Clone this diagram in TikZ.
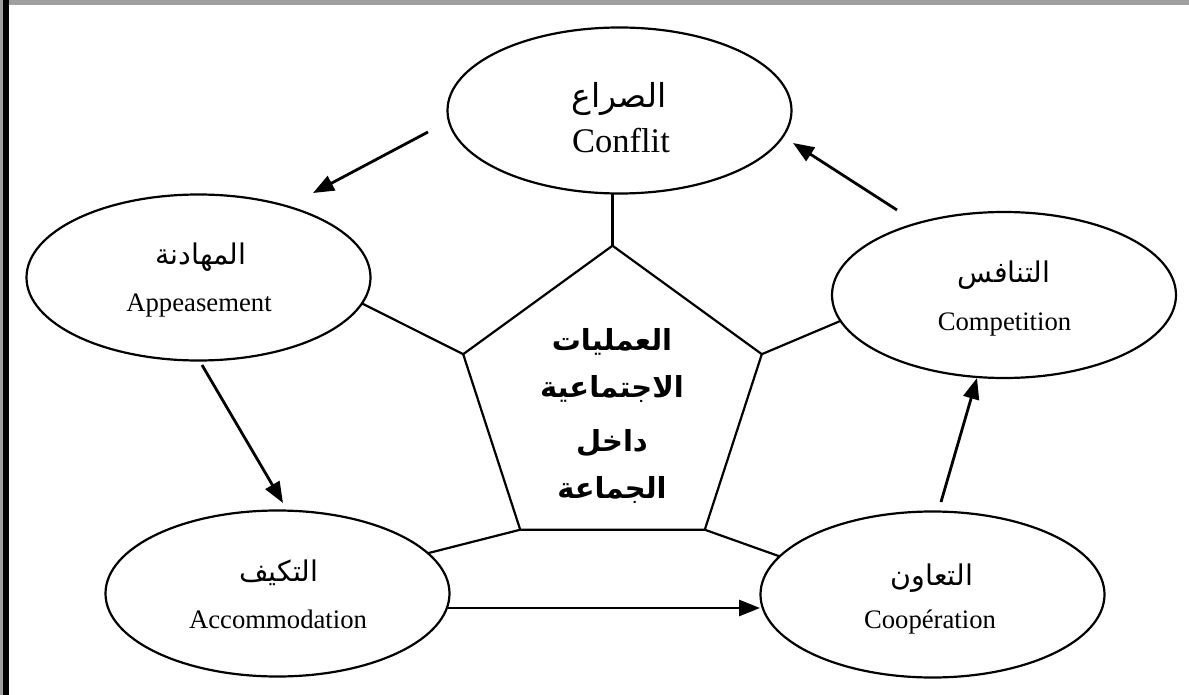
\documentclass[tikz,border=0pt]{standalone}
\usepackage{fontspec}
\setmainfont{Liberation Serif}
\newfontfamily\arabicfont[Script=Arabic]{DejaVu Sans}
\TeXXeTstate=1
\usetikzlibrary{arrows.meta,shapes.geometric,calc}
\begin{document}
\begin{tikzpicture}[x=1pt,y=-1pt,
  proc/.style={ellipse,draw,line width=2.2pt,minimum width=344pt,minimum height=166pt,inner sep=0pt,outer sep=0pt},
  link/.style={line width=2.2pt},
  flow/.style={line width=2.8pt,-{Triangle[length=21pt,width=16pt]}},
  artxt/.style={anchor=base,inner sep=0pt,font=\arabicfont\fontsize{28.5}{32}\selectfont},
  entxt/.style={anchor=base,inner sep=0pt,font=\fontsize{26.7}{30}\selectfont},
  ctxt/.style={anchor=base,inner sep=0pt,font=\arabicfont\bfseries\fontsize{29}{34}\selectfont}]
\useasboundingbox (0,0) rectangle (1189,695);
\fill[white] (0,0) rectangle (1189,695);
\fill[gray!75] (0,0) rectangle (1189,4.7);
\fill[gray!75] (0,0) rectangle (3.3,695);
\fill[black] (3.3,0) rectangle (9,695);

\node[proc] (conf) at (619.5,110.5) {};
\node[proc] (app) at (198.5,277.5) {};
\node[proc] (comp) at (1004,295) {};
\node[proc] (acc) at (277.5,593.5) {};
\node[proc] (coop) at (932.5,594.5) {};
\node[regular polygon,regular polygon sides=5,draw,line width=2.2pt,minimum size=314pt,inner sep=0pt,outer sep=0pt] (pent) at (612.5,402.7) {};

\node[artxt,font=\arabicfont\fontsize{33}{38}\selectfont] (confar) at (619,108) {\beginR الصراع\endR};
\node[entxt,font=\fontsize{34.5}{40}\selectfont] (confen) at (621,153) {Conflit};
\node[artxt] (appar) at (201,265) {\beginR المهادنة\endR};
\node[entxt] (appen) at (199,311.5) {Appeasement};
\node[artxt] (compar) at (1004,283) {\beginR التنافس\endR};
\node[entxt] (compen) at (1004.5,330) {Competition};
\node[artxt] (accar) at (279,581) {\beginR التكيف\endR};
\node[entxt] (accen) at (278,628) {Accommodation};
\node[artxt] (coopar) at (932,585) {\beginR التعاون\endR};
\node[entxt] (coopen) at (930,628) {Coopération};

\node[ctxt] (c1) at (612,350) {\beginR العمليات\endR};
\node[ctxt] (c2) at (612,397) {\beginR الاجتماعية\endR};
\node[ctxt] (c3) at (612,451) {\beginR داخل\endR};
\node[ctxt] (c4) at (612,498) {\beginR الجماعة\endR};

\draw[link] (pent.corner 1) -- (pent.corner 1 |- conf.south);
\draw[link] (pent.corner 2) -- (app.-9.5);
\draw[link] (pent.corner 5) -- (comp.189.8);
\draw[link] (pent.corner 3) -- (acc.15.8);
\draw[link] (pent.corner 4) -- (coop.166.4);

\coordinate (a1s) at (428,132); \coordinate (a1e) at (313,193);
\coordinate (a2s) at (202,365); \coordinate (a2e) at (283,503);
\coordinate (a3s) at (448,608); \coordinate (a3e) at (760,608);
\coordinate (a4s) at (941,502); \coordinate (a4e) at (977,378);
\coordinate (a5s) at (897,210); \coordinate (a5e) at (793,143);
\draw[flow] (a1s) -- (a1e);
\draw[flow] (a2s) -- (a2e);
\draw[flow] (a3s) -- (a3e);
\draw[flow] (a4s) -- (a4e);
\draw[flow] (a5s) -- (a5e);
\end{tikzpicture}
\end{document}
